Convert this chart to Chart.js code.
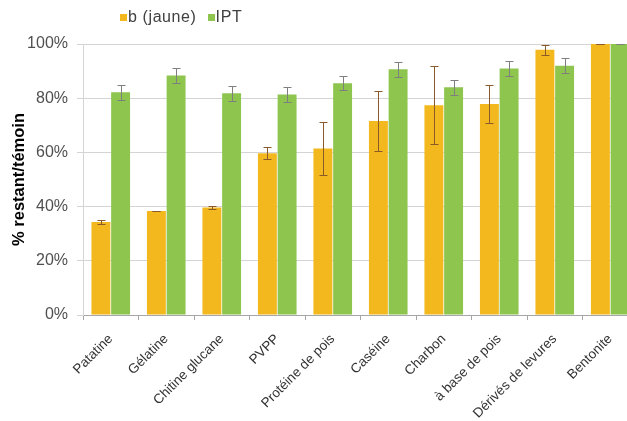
<!DOCTYPE html>
<html>
<head>
<meta charset="utf-8">
<script src="https://cdn.jsdelivr.net/npm/chart.js@4"></script>
<style>
  html, body { margin: 0; padding: 0; width: 627px; height: 421px; overflow: hidden; background: #fff; }
  #wrap { position: relative; width: 627px; height: 421px; overflow: hidden; }
  canvas { position: absolute; left: 0; top: 0; }
  .legend { position: absolute; top: 8px; left: 120px; font: 16px "Liberation Sans", Arial, sans-serif; letter-spacing: 0.6px; color: #404040; white-space: nowrap; }
  .legend span.box { display: inline-block; width: 7px; height: 7px; margin-right: 1px; vertical-align: 1px; }
  .legend span.item { margin-right: 6px; }
</style>
</head>
<body>
<div id="wrap">
  <canvas id="chart" width="640" height="421"></canvas>
  <div class="legend">
    <span class="item"><span class="box" style="background:#F2B81E"></span>b (jaune)</span>
    <span class="item"><span class="box" style="background:#8DC54F"></span>IPT</span>
  </div>
</div>
<script>
const categories = ["Patatine", "Gélatine", "Chitine glucane", "PVPP", "Protéine de pois",
  "Caséine", "Charbon", "à base de pois", "Dérivés de levures", "Bentonite"];
const jauneValues = [34.3, 38.4, 39.7, 59.7, 61.4, 71.6, 77.4, 77.9, 97.9, 100];
const jauneErrors = [0.8, 0.1, 0.6, 2.3, 9.9, 11.0, 14.3, 7.1, 1.8, 0];
const iptValues = [82.2, 88.4, 81.8, 81.4, 85.5, 90.7, 84.0, 91.0, 92.0, 100];
const iptErrors = [2.7, 2.8, 2.8, 2.7, 2.6, 2.8, 2.7, 2.8, 2.7, 0];
const yTicks = [0, 20, 40, 60, 80, 100];

const errorBars = {
  id: "errorBars",
  afterDatasetsDraw(chart) {
    const ctx = chart.ctx;
    const y = chart.scales.y;
    chart.data.datasets.forEach((ds, i) => {
      const meta = chart.getDatasetMeta(i);
      ctx.save();
      ctx.strokeStyle = ds.errorColor;
      ctx.lineWidth = 1;
      meta.data.forEach((bar, j) => {
        const v = ds.data[j], e = ds.errors[j];
        const top = Math.round(y.getPixelForValue(v + e)) + 0.5;
        const bot = Math.round(y.getPixelForValue(v - e)) + 0.5;
        const x = Math.round(bar.x) + 0.5;
        ctx.beginPath();
        ctx.moveTo(x, top); ctx.lineTo(x, bot);
        ctx.moveTo(x - 4, top); ctx.lineTo(x + 4, top);
        ctx.moveTo(x - 4, bot); ctx.lineTo(x + 4, bot);
        ctx.stroke();
      });
      ctx.restore();
    });
  }
};

new Chart(document.getElementById("chart"), {
  type: "bar",
  data: {
    labels: categories,
    datasets: [
      { label: "b (jaune)", data: jauneValues, errors: jauneErrors, errorColor: "#8B5A2B",
        backgroundColor: "#F2B81E" },
      { label: "IPT", data: iptValues, errors: iptErrors, errorColor: "#7F7F7F",
        backgroundColor: "#8DC54F" }
    ]
  },
  options: {
    responsive: false,
    animation: false,
    categoryPercentage: 0.71,
    barPercentage: 0.96,
    layout: { padding: { top: 44, right: 2, left: 0, bottom: 0 } },
    plugins: { legend: { display: false }, tooltip: { enabled: false } },
    scales: {
      x: {
        afterFit: (s) => { s.height = 106; },
        grid: { offset: true, drawOnChartArea: false, tickLength: 5, color: "#A6A6A6" },
        border: { color: "#A6A6A6" },
        ticks: {
          autoSkip: false, minRotation: 45, maxRotation: 45, padding: 11,
          color: "#333", font: { family: "Liberation Sans", size: 13.5 }
        }
      },
      y: {
        min: 0, max: 100,
        afterFit: (s) => { s.width = 83; },
        afterBuildTicks: (s) => { s.ticks = yTicks.map(v => ({ value: v })); },
        grid: { color: "#D4D4D4", tickLength: 6 },
        border: { color: "#D4D4D4" },
        ticks: {
          padding: 9, color: "#505050",
          font: { family: "Liberation Sans", size: 16 },
          callback: (v) => v + "%"
        },
        title: {
          display: true, text: "% restant/témoin", color: "#000",
          font: { family: "Liberation Sans", size: 16.5, weight: "bold" },
          padding: { top: 10, bottom: 0 }
        }
      }
    }
  },
  plugins: [errorBars]
});
</script>
</body>
</html>
